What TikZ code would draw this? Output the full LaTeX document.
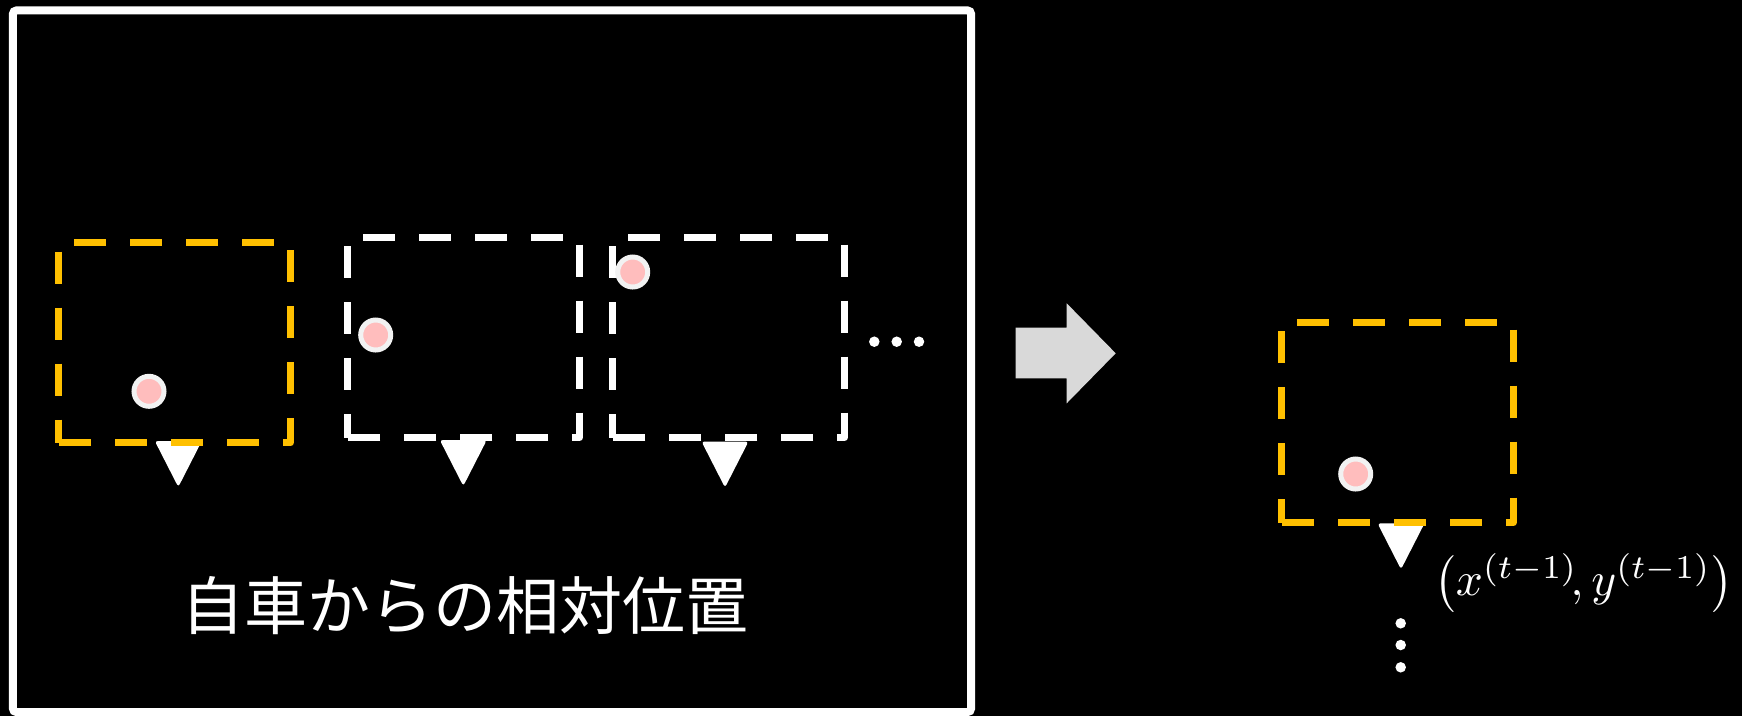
\documentclass[tikz,border=0pt]{standalone}
\usepackage{fontspec}
\newfontfamily\cjk{Noto Sans CJK JP}
\usetikzlibrary{calc}
\definecolor{ygold}{HTML}{FFC000}
\definecolor{dotpink}{HTML}{FFBDBD}
\definecolor{dotring}{HTML}{F2F2F2}
\definecolor{arrowgray}{HTML}{D9D9D9}
\tikzset{
  boxarea/.style={draw=none, minimum width=232pt, minimum height=200pt, inner sep=0pt},
  dashside/.style={line width=7pt, dash pattern=on 32pt off 24pt, line join=round},
  posdot/.style={circle, minimum size=30pt, inner sep=0pt, line width=5pt, draw=dotring, fill=dotpink},
  smalldot/.style={circle, minimum size=10.5pt, inner sep=0pt, fill=white},
  cartri/.style={fill=white, rounded corners=3pt},
}
\newcommand{\dashedbox}[2]{%
  \draw[dashside, #2, dash phase=40pt] (#1.north west) -- (#1.north east) -- (#1.south east) -- (#1.south west);
  \draw[dashside, #2, dash phase=47pt] (#1.north west) -- (#1.south west);
}
\newcommand{\cartriangle}[1]{%
  \fill[cartri] ($(#1)+(-23.5,0)$) -- ($(#1)+(23.5,0)$) -- ($(#1)+(0,46)$) -- cycle;
}
\begin{document}
\begin{tikzpicture}[x=1pt,y=-1pt]
\useasboundingbox (0,0) rectangle (1742,716);
\fill[black] (0,0) rectangle (1742,716);
% outer frame
\node[draw=none, minimum width=958pt, minimum height=701.5pt, inner sep=0pt] (frame) at (492,361.25) {};
\draw[white, line width=8pt, rounded corners=4pt] (frame.north west) rectangle (frame.south east);
% box areas
\node[boxarea] (b1) at (174.2,342.7) {};
\node[boxarea] (b2) at (463.3,337.3) {};
\node[boxarea] (b3) at (728.3,337.3) {};
\node[boxarea] (b4) at (1397.2,422.3) {};
% triangles (ego car)
\coordinate (t1) at (178.3,441);
\coordinate (t2) at (463.3,440);
\coordinate (t3) at (725,441.5);
\coordinate (t4) at (1401,523.3);
\cartriangle{t1}
\cartriangle{t2}
\cartriangle{t3}
\cartriangle{t4}
% dashed boxes
\dashedbox{b1}{ygold}
\dashedbox{b2}{white}
\dashedbox{b3}{white}
\dashedbox{b4}{ygold}
% position dots
\node[posdot] (d1) at (149,391.3) {};
\node[posdot] (d2) at (375.7,335) {};
\node[posdot] (d3) at (632.7,272) {};
\node[posdot] (d4) at (1355.7,474) {};
% horizontal ellipsis
\node[smalldot] (h1) at (874.3,341.7) {};
\node[smalldot] (h2) at (896.7,341.7) {};
\node[smalldot] (h3) at (919,341.7) {};
% vertical ellipsis
\node[smalldot] (v1) at (1400.7,623.3) {};
\node[smalldot] (v2) at (1400.7,645) {};
\node[smalldot] (v3) at (1400.7,667.3) {};
% big arrow
\fill[arrowgray] (1015.7,327.7) -- (1066.7,327.7) -- (1066.7,303.3) -- (1115.7,353.3) -- (1066.7,403.3) -- (1066.7,378.3) -- (1015.7,378.3) -- cycle;
% texts
\node[white, inner sep=0pt, anchor=west] (caption) at (181,606) {\cjk\fontsize{63}{70}\selectfont 自車からの相対位置};
\node[white, inner sep=0pt, anchor=west] (coord) at (1434,583) {\scalebox{4.75}{$\left(x^{(t-1)}\!,y^{(t-1)}\right)$}};
\end{tikzpicture}
\end{document}
